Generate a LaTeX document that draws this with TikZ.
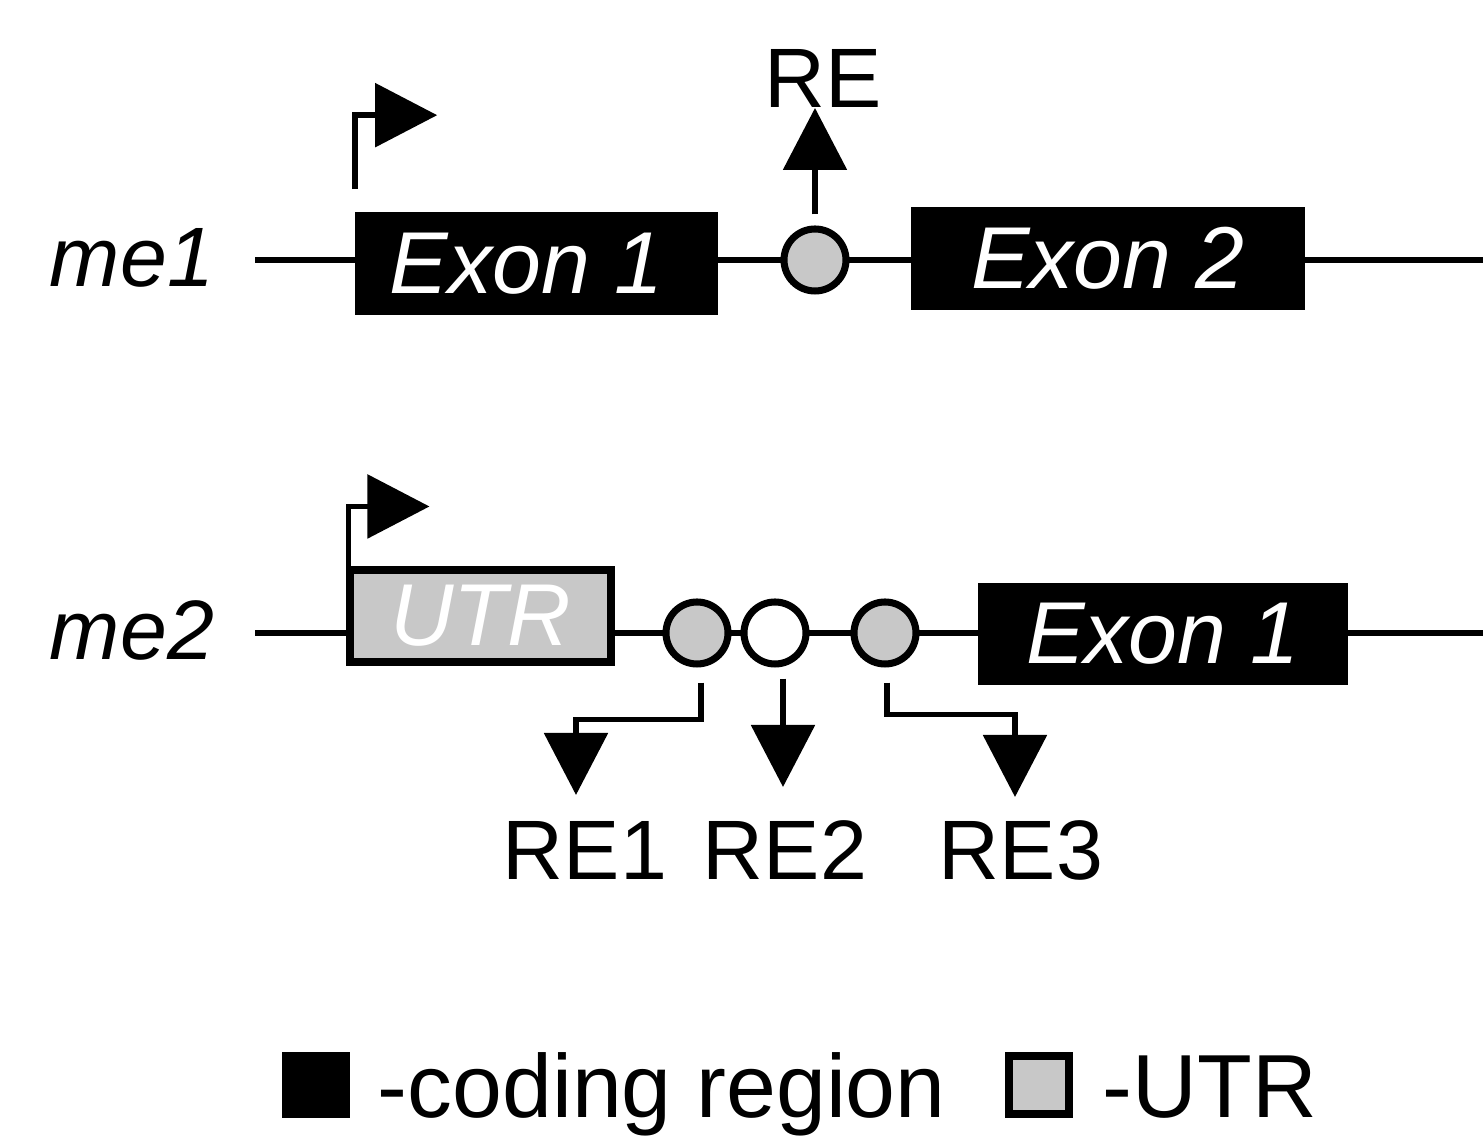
\documentclass[tikz,border=0pt]{standalone}
\usepackage{fontspec}
\setmainfont{Liberation Sans}
\usetikzlibrary{arrows.meta, positioning}
\definecolor{utrgray}{RGB}{200,200,200}

\begin{document}
\begin{tikzpicture}[
        font=\fontsize{24}{28}\selectfont,
        line width=1.6pt,
        >={Triangle[length=0.62cm, width=0.63cm]},
        coding/.style={fill=black, text=white, font=\fontsize{25}{28}\selectfont\itshape, minimum height=1.03cm, inner sep=0pt},
        utrbox/.style={draw, fill=utrgray, line width=2pt, text=white, font=\fontsize{25}{28}\selectfont\itshape, minimum height=0.92cm, inner sep=0pt},
        resite/.style={circle, draw, fill=utrgray, line width=2pt, minimum size=0.62cm, inner sep=0pt},
        genename/.style={font=\fontsize{24}{28}\selectfont\itshape}
    ]
    \useasboundingbox (0,0) rectangle (14.83,11.46);

    % Gene me1
    \coordinate (a0) at (2.55,8.86);
    \coordinate (a1) at (14.83,8.86);
    \draw (a0) -- (a1);
    \node[genename] (me1) at (1.32,8.88) {me1};
    \node[coding, minimum width=3.63cm] (exA1) at (5.365,8.825) {\hspace*{-0.2cm}Exon 1};
    \node[resite] (re) at (8.15,8.86) {};
    \node[coding, minimum width=3.94cm] (exA2) at (11.08,8.875) {Exon 2};

    % Promoter and RE of me1
    \draw[->] ([shift={(0.03,0.20)}]exA1.north west) |- ++(0.82,0.74);
    \node[anchor=base] (relab) at (8.23,10.38) {RE};
    \draw[->, shorten <=0.11cm] (re.north) -- (re.north |- relab.base);

    % Gene me2
    \coordinate (b0) at (2.55,5.13);
    \coordinate (b1) at (14.83,5.13);
    \draw (b0) -- (b1);
    \node[genename] (me2) at (1.32,5.16) {me2};
    \node[utrbox, minimum width=2.61cm] (utr) at (4.805,5.30) {UTR};
    \node[resite] (s1) at (6.97,5.13) {};
    \node[resite, fill=white] (s2) at (7.75,5.13) {};
    \node[resite] (s3) at (8.85,5.13) {};
    \node[coding, minimum width=3.70cm, minimum height=1.02cm] (exB1) at (11.63,5.12) {Exon 1};

    % Promoter of me2
    \draw[->] ([xshift=0.02cm]utr.north west) |- ++(0.81,0.60);

    % RE sites of me2
    \coordinate (t1) at (5.76,3.51);
    \coordinate (t2) at (7.83,3.59);
    \coordinate (t3) at (10.15,3.49);
    \draw[->] ([xshift=0.04cm, yshift=-0.15cm]s1.south) -- ++(0,-0.37) -| (t1);
    \draw[->] ([xshift=0.08cm, yshift=-0.11cm]s2.south) -- (t2);
    \draw[->] ([xshift=0.02cm, yshift=-0.15cm]s3.south) -- ++(0,-0.32) -| (t3);
    \node[anchor=base] (re1) at (5.85,2.66) {RE1};
    \node[anchor=base] (re2) at (7.85,2.66) {RE2};
    \node[anchor=base] (re3) at (10.21,2.66) {RE3};

    % Legend
    \node[fill=black, minimum width=0.68cm, minimum height=0.66cm, inner sep=0pt] (keyA) at (3.16,0.61) {};
    \node[anchor=base west, inner sep=0pt, font=\fontsize{25.5}{28}\selectfont] (keyAlab) at (3.75,0.28) {-coding region};
    \node[draw, fill=utrgray, line width=2.2pt, minimum width=0.6cm, minimum height=0.58cm, inner sep=0pt] (keyB) at (10.39,0.61) {};
    \node[anchor=base west, inner sep=0pt, font=\fontsize{25.5}{28}\selectfont] (keyBlab) at (11.00,0.28) {-UTR};

\end{tikzpicture}
\end{document}
